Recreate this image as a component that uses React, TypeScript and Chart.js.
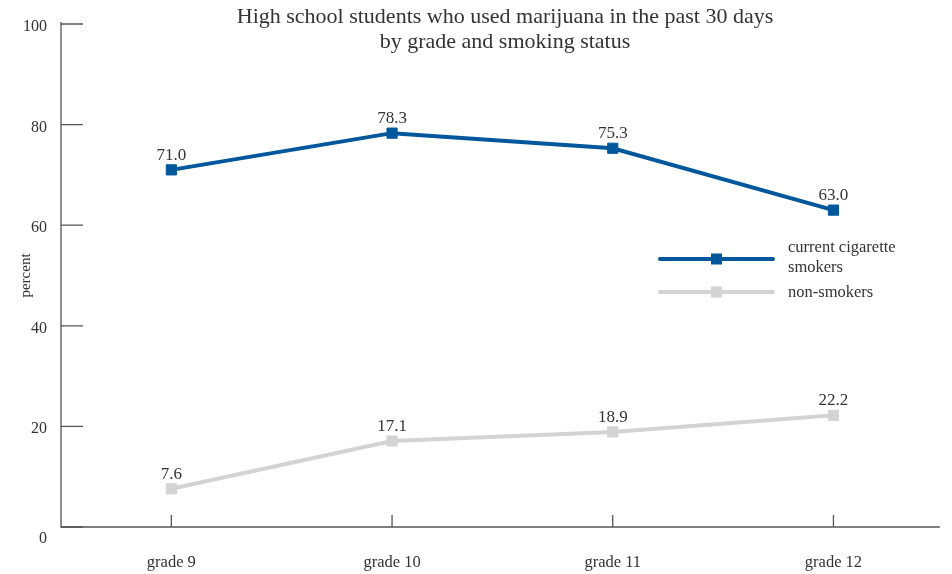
import React, { useEffect, useRef } from "react";
import { Chart, registerables } from "chart.js";

Chart.register(...registerables);

const categories = ["grade 9", "grade 10", "grade 11", "grade 12"];
const smokers = [71.0, 78.3, 75.3, 63.0];
const nonSmokers = [7.6, 17.1, 18.9, 22.2];
const yTicks = [0, 20, 40, 60, 80, 100];
const titleLines = [
  "High school students who used marijuana in the past 30 days",
  "by grade and smoking status",
];
const legendItems = [
  { lines: ["current cigarette", "smokers"], color: "#00579b" },
  { lines: ["non-smokers"], color: "#d3d3d3" },
];

const FONT = '"Liberation Serif", "DejaVu Serif", serif';
const TEXT = "#333333";
const AXIS = "#555555";

const decor = {
  id: "decor",
  afterDraw(chart: any) {
    const ctx = chart.ctx as CanvasRenderingContext2D;
    const xs = chart.scales.x;
    const ys = chart.scales.y;
    const area = chart.chartArea;
    const y0 = ys.getPixelForValue(0);
    ctx.save();
    // axes
    ctx.strokeStyle = AXIS;
    ctx.lineWidth = 1.3;
    ctx.beginPath();
    ctx.moveTo(area.left, ys.getPixelForValue(100) - 2);
    ctx.lineTo(area.left, y0);
    ctx.lineTo(area.right - 4, y0);
    ctx.stroke();
    // y ticks (inward)
    ctx.beginPath();
    yTicks.forEach((v) => {
      const y = ys.getPixelForValue(v);
      ctx.moveTo(area.left, y);
      ctx.lineTo(area.left + 22, y);
    });
    // x ticks (upward)
    categories.forEach((_, i) => {
      const x = xs.getPixelForValue(i);
      ctx.moveTo(x, y0);
      ctx.lineTo(x, y0 - 12);
    });
    ctx.stroke();

    // y tick labels
    ctx.fillStyle = TEXT;
    ctx.font = `16px ${FONT}`;
    ctx.textAlign = "right";
    ctx.textBaseline = "alphabetic";
    yTicks.forEach((v) => {
      const y = ys.getPixelForValue(v);
      ctx.fillText(String(v), area.left - 14, y + (v === 0 ? 16 : 7));
    });
    // x tick labels
    ctx.textAlign = "center";
    ctx.font = `16.5px ${FONT}`;
    categories.forEach((c, i) => {
      ctx.fillText(c, xs.getPixelForValue(i), y0 + 40);
    });
    // y axis title
    ctx.save();
    ctx.translate(30, (ys.getPixelForValue(0) + ys.getPixelForValue(100)) / 2);
    ctx.rotate(-Math.PI / 2);
    ctx.font = `15px ${FONT}`;
    ctx.textAlign = "center";
    ctx.fillText("percent", 0, 0);
    ctx.restore();

    // title
    ctx.font = `22px ${FONT}`;
    ctx.textAlign = "center";
    const cx = 505;
    ctx.fillText(titleLines[0], cx, 23);
    ctx.fillText(titleLines[1], cx, 48);

    // data labels
    ctx.font = `17px ${FONT}`;
    chart.data.datasets.forEach((ds: any, di: number) => {
      const meta = chart.getDatasetMeta(di);
      meta.data.forEach((pt: any, i: number) => {
        ctx.fillText(ds.data[i].toFixed(1), pt.x, pt.y - 10);
      });
    });

    // legend
    const lx1 = 660;
    const lx2 = 773;
    const ly = [259, 292];
    ctx.lineCap = "round";
    legendItems.forEach((item, k) => {
      ctx.strokeStyle = item.color;
      ctx.lineWidth = 4;
      ctx.beginPath();
      ctx.moveTo(lx1, ly[k]);
      ctx.lineTo(lx2, ly[k]);
      ctx.stroke();
      ctx.fillStyle = item.color;
      ctx.fillRect((lx1 + lx2) / 2 - 5.5, ly[k] - 5.5, 11, 11);
      ctx.fillStyle = TEXT;
      ctx.font = `16.5px ${FONT}`;
      ctx.textAlign = "left";
      ctx.textBaseline = "alphabetic";
      item.lines.forEach((t, j) => {
        const base = k === 0 ? 252 + j * 20 : 297;
        ctx.fillText(t, 788, base);
      });
    });
    ctx.restore();
  },
};

export default function App() {
  const ref = useRef<HTMLCanvasElement | null>(null);
  useEffect(() => {
    document.body.style.margin = "0";
    const canvas = ref.current!;
    const chart = new Chart(canvas, {
      type: "line",
      data: {
        labels: categories,
        datasets: [
          {
            label: "current cigarette smokers",
            data: smokers,
            borderColor: "#00579b",
            backgroundColor: "#00579b",
            borderWidth: 4,
            pointStyle: "rect",
            pointRadius: 7.2,
            pointBorderWidth: 1,
            pointBackgroundColor: "#00579b",
            pointBorderColor: "#00579b",
            tension: 0,
            borderCapStyle: "round",
          },
          {
            label: "non-smokers",
            data: nonSmokers,
            borderColor: "#d3d3d3",
            backgroundColor: "#d3d3d3",
            borderWidth: 4,
            pointStyle: "rect",
            pointRadius: 7.2,
            pointBorderWidth: 1,
            pointBackgroundColor: "#d3d3d3",
            pointBorderColor: "#d3d3d3",
            tension: 0,
            borderCapStyle: "round",
          },
        ],
      },
      options: {
        responsive: false,
        animation: false,
        layout: { padding: { left: 61, right: 8, top: 24, bottom: 47 } },
        plugins: {
          legend: { display: false },
          title: { display: false },
          tooltip: { enabled: false },
        },
        scales: {
          x: { type: "category", offset: true, display: false },
          y: { min: 0, max: 100, display: false },
        },
      },
      plugins: [decor],
    });
    return () => chart.destroy();
  }, []);
  return (
    <div style={{ width: 952, height: 574, background: "#fff" }}>
      <canvas ref={ref} width={952} height={574} style={{ display: "block" }} />
    </div>
  );
}
